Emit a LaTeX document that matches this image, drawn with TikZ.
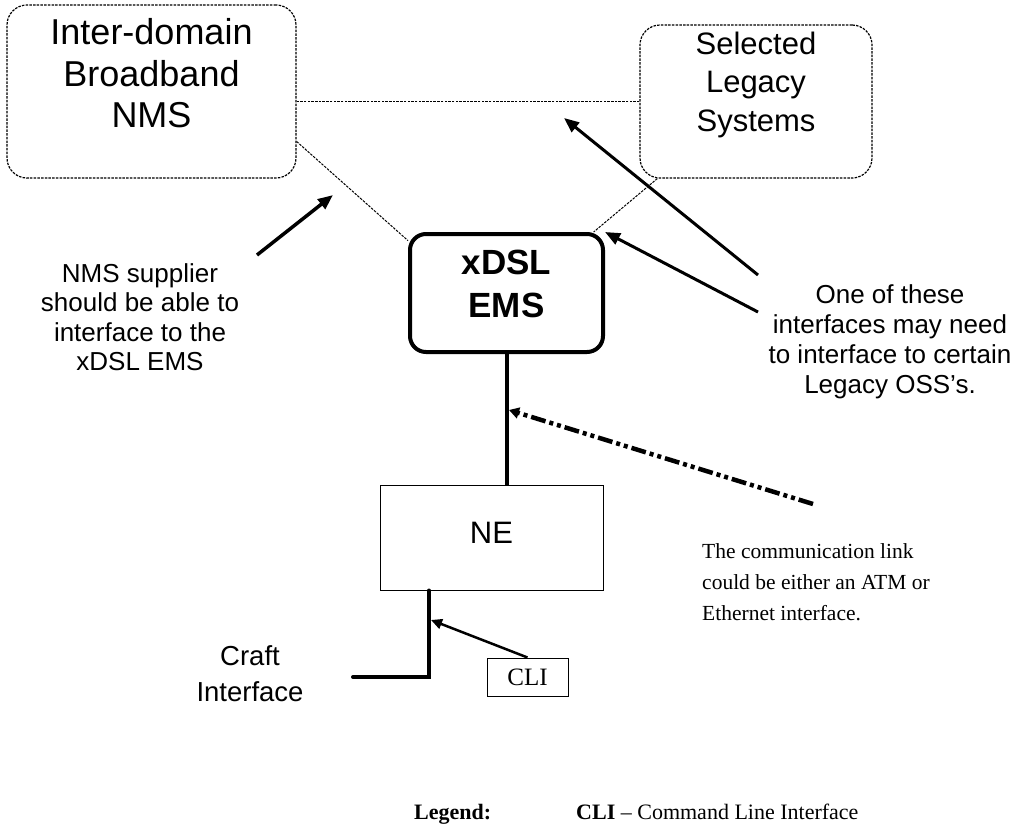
\documentclass[tikz,border=0pt]{standalone}
\usepackage{fontspec}
\setmainfont{Liberation Serif}
\setsansfont{Liberation Sans}
\usetikzlibrary{arrows.meta}

\begin{document}
\begin{tikzpicture}[x=1pt, y=-1pt,
dashedbox/.style={rectangle, rounded corners=20pt, draw=black, line width=1.2pt, dash pattern=on 2.5pt off 1.2pt},
emsbox/.style={rectangle, rounded corners=16pt, draw=black, line width=4pt},
plainbox/.style={rectangle, draw=black, line width=1pt},
nmstext/.style={font=\sffamily\fontsize{36pt}{41.5pt}\selectfont, align=center, inner sep=0pt},
legacytext/.style={font=\sffamily\fontsize{31pt}{38.5pt}\selectfont, align=center, inner sep=0pt},
emstext/.style={font=\sffamily\bfseries\fontsize{35pt}{43pt}\selectfont, align=center, inner sep=0pt},
notetext/.style={font=\sffamily\fontsize{26pt}{29.5pt}\selectfont, align=center, inner sep=0pt},
serifnote/.style={font=\fontsize{21.5pt}{31pt}\selectfont, align=left, inner sep=0pt},
linkline/.style={line width=1pt, dash pattern=on 2.5pt off 1.2pt},
busline/.style={line width=4pt},
pointer/.style={line width=3pt, -{Triangle[length=15pt, width=12pt]}},
]
\useasboundingbox (0,0) rectangle (1019,833);

%Nodes
\node[dashedbox, minimum width=289pt, minimum height=173pt,
  label={[nmstext, anchor=north, yshift=-14pt]north:Inter-domain\\Broadband\\NMS}] (nms) at (151.5,91.5) {};
\node[dashedbox, minimum width=232pt, minimum height=153pt,
  label={[legacytext, anchor=north, yshift=-7pt]north:Selected\\Legacy\\Systems}] (legacy) at (756,101.5) {};
\node[emsbox, minimum width=193pt, minimum height=118pt,
  label={[emstext, anchor=north, yshift=-18pt]north:xDSL\\EMS}] (ems) at (506.5,293) {};
\node[plainbox, minimum width=223pt, minimum height=105pt, font=\sffamily\fontsize{31pt}{36pt}\selectfont, text depth=10pt] (ne) at (491.5,537.5) {NE};
\node[plainbox, minimum width=81pt, minimum height=38pt, font=\fontsize{25pt}{30pt}\selectfont] (cli) at (527.5,677) {CLI};

\node[notetext, anchor=north] (nmsnote) at (140,263) {NMS supplier\\should be able to\\interface to the\\xDSL EMS};
\node[notetext, font=\sffamily\fontsize{26pt}{30pt}\selectfont, anchor=north] (ossnote) at (890,284.4) {One of these\\interfaces may need\\to interface to certain\\Legacy OSS’s.};
\node[serifnote, anchor=north west] (linknote) at (702,543) {The communication link\\could be either an ATM or\\Ethernet interface.};
\node[notetext, font=\sffamily\fontsize{27.5pt}{36pt}\selectfont, anchor=north] (craftnote) at (250,645) {Craft\\Interface};
\node[anchor=base west, inner sep=0pt, font=\bfseries\fontsize{22pt}{26pt}\selectfont] (legend) at (414,819) {Legend:};
\node[anchor=base west, inner sep=0pt, font=\fontsize{22pt}{26pt}\selectfont] (legendcli) at (576,819) {\textbf{CLI} -- Command Line Interface};

\coordinate (craft) at (429,677);
\coordinate (craftend) at (353,677);
\coordinate (clitap) at (431,620);
\coordinate (linktap) at (509,410);
\coordinate (linkfrom) at (813,504);
\coordinate (nmsfrom) at (257,255);
\coordinate (nmsto) at (333,195);
\coordinate (legacyfrom) at (758,275);
\coordinate (legacyto) at (564,118);
\coordinate (emsfrom) at (758,312);

%Lines
\draw[linkline] (legacy.west) -- (legacy.west -| nms.east);
\draw[linkline] (nms.-19) -- (ems.152);
\draw[linkline] (legacy.-142) -- (ems.35);
\draw[busline] (ems.south) -- (ems.south |- ne.north);
\draw[busline, line cap=round] (ne.south -| craft) -- (craft) -- (craftend);
\draw[line width=2.5pt, -{Triangle[length=11pt, width=10pt]}] (cli.north) -- (clitap);
\draw[line width=4.5pt, dash pattern=on 15pt off 4pt on 4pt off 4pt on 4pt off 4pt, -{Triangle[length=10pt, width=11pt]}] (linkfrom) -- (linktap);
\draw[pointer, line width=3.5pt] (nmsfrom) -- (nmsto);
\draw[pointer] (legacyfrom) -- (legacyto);
\draw[pointer] (emsfrom) -- (ems.north east);
\end{tikzpicture}
\end{document}
